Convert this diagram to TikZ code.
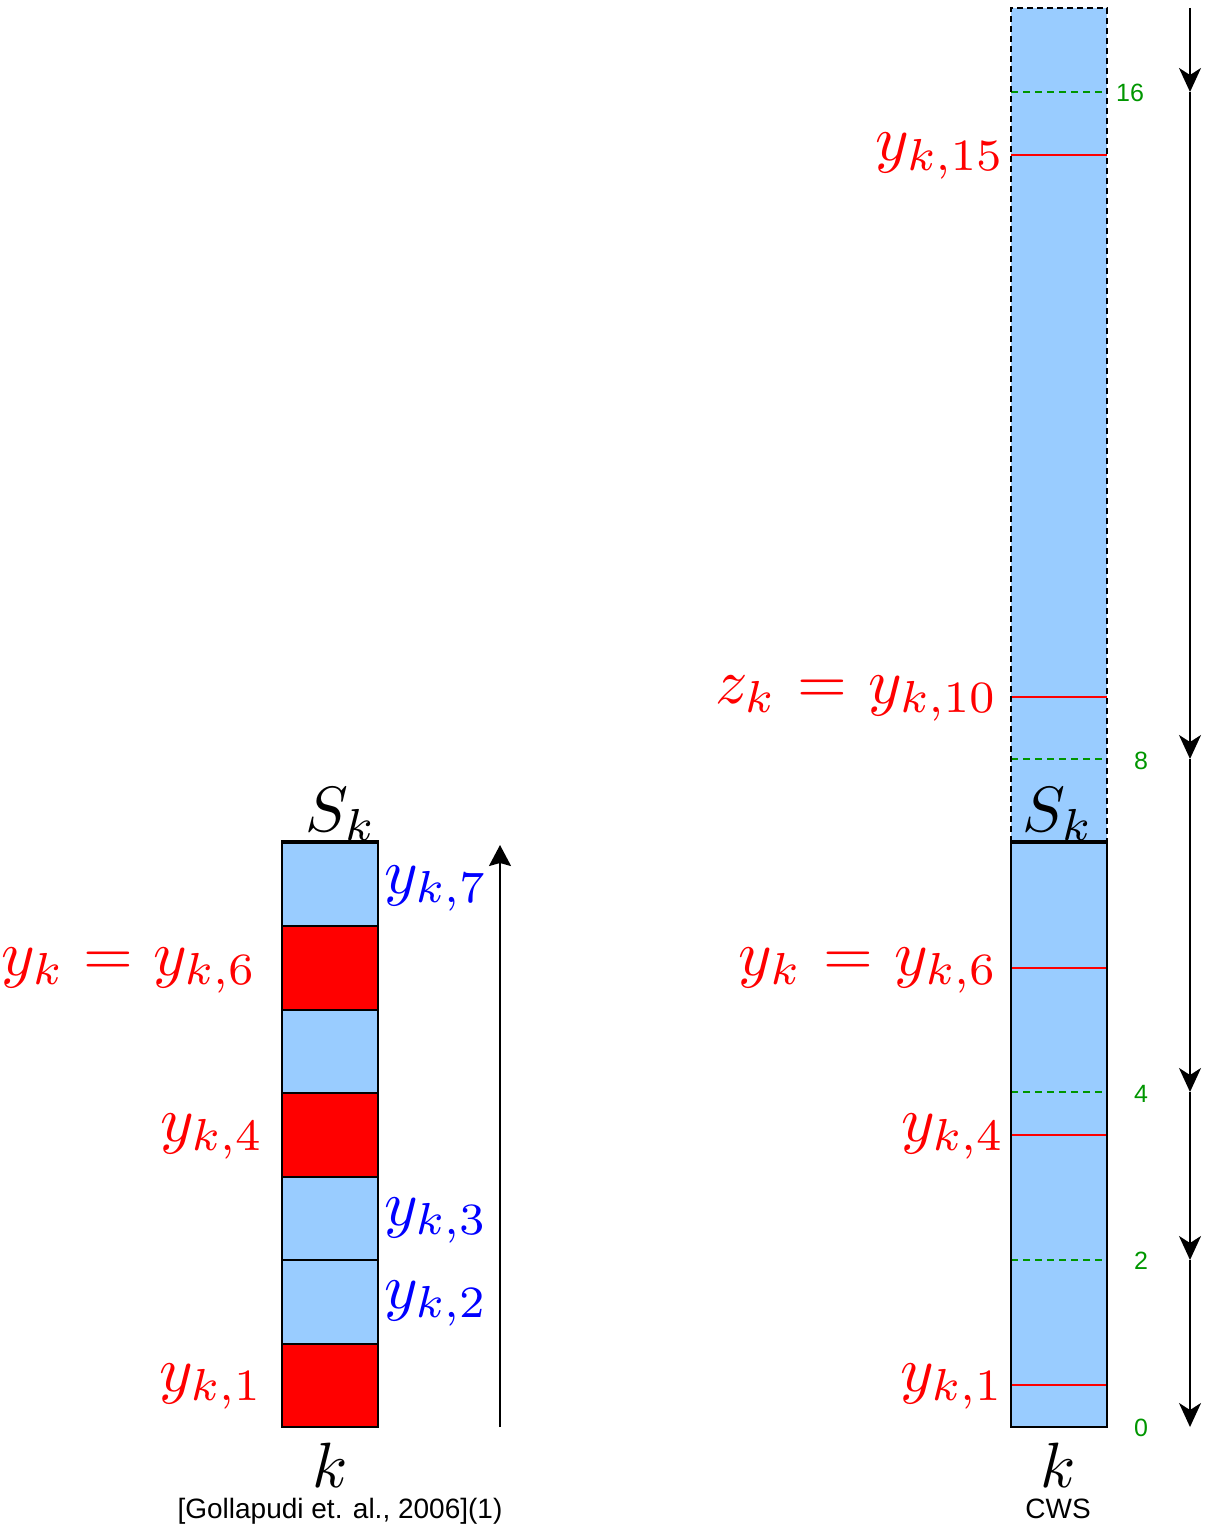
\documentclass[tikz,border=0pt]{standalone}
\usepackage{fix-cm}
\usepackage{graphicx}
\usepackage{fontspec}
\setsansfont{Liberation Sans}
\usetikzlibrary{arrows.meta}
\definecolor{cellblue}{RGB}{153,204,255}
\definecolor{cellred}{RGB}{255,0,0}
\definecolor{tickgreen}{RGB}{0,150,0}
\definecolor{labblue}{RGB}{0,0,255}
\newcommand{\mylab}[1]{\scalebox{6.4}{$#1$}}
\tikzset{
  mlab/.style={inner sep=0pt, font=\fontsize{10}{12}\selectfont},
  redlab/.style={mlab, text=cellred},
  bluelab/.style={mlab, text=labblue},
  blacklab/.style={mlab, text=black},
  caption/.style={inner sep=0pt, font=\sffamily\fontsize{28}{32}\selectfont},
  ticklab/.style={inner sep=0pt, text=tickgreen, font=\sffamily\fontsize{25}{30}\selectfont},
  cellborder/.style={draw=black, line width=2.5pt},
  topline/.style={draw=black, line width=4.5pt},
  redline/.style={draw=cellred, line width=2pt},
  greendash/.style={draw=tickgreen, line width=2pt, dash pattern=on 7pt off 5pt},
  blackdash/.style={draw=black, line width=2.5pt, dash pattern=on 6pt off 4pt},
  downarr/.style={draw=black, line width=2pt, -{Stealth[length=24pt,width=22pt,inset=7pt]}},
  uparr/.style={draw=black, line width=2pt, -{Stealth[length=21pt,width=22pt,inset=3pt]}}
}
\begin{document}
\begin{tikzpicture}[x=1pt,y=-1pt]
\useasboundingbox (0,0) rectangle (1208,1525);

% ---------------- left column ----------------
\fill[cellblue] (282,842) rectangle (378,926);
\fill[cellred]  (282,926) rectangle (378,1010);
\fill[cellblue] (282,1010) rectangle (378,1093);
\fill[cellred]  (282,1093) rectangle (378,1177);
\fill[cellblue] (282,1177) rectangle (378,1260);
\fill[cellblue] (282,1260) rectangle (378,1344);
\fill[cellred]  (282,1344) rectangle (378,1427);
\foreach \ya/\yb in {842/926,926/1010,1010/1093,1093/1177,1177/1260,1260/1344,1344/1427}
  \draw[cellborder] (282,\ya) rectangle (378,\yb);
\draw[topline] (281,842) -- (379,842);

\node[blacklab, anchor=base] (Sl) at (341,831) {\mylab{S_k}};
\node[bluelab, anchor=base west] (l7) at (384,893) {\mylab{y_{k,7}}};
\node[redlab, anchor=base east] (l6) at (257,975) {\mylab{y_k \mkern0.5mu=\mkern0.5mu y_{k,6}}};
\node[redlab, anchor=base east] (l4) at (264,1141) {\mylab{y_{k,4}}};
\node[bluelab, anchor=base west] (l3) at (384,1225) {\mylab{y_{k,3}}};
\node[bluelab, anchor=base west] (l2) at (384,1308) {\mylab{y_{k,2}}};
\node[redlab, anchor=base east] (l1) at (263,1391) {\mylab{y_{k,1}}};
\node[blacklab, anchor=base] (kl) at (330,1487) {\mylab{k}};
\node[caption, anchor=base] (capl) at (340,1518) {[Gollapudi et. al., 2006](1)};

\coordinate (b0) at (500,1427);
\coordinate (b1) at (500,845);
\draw[uparr] (b0) -- (b1);

% ---------------- right column ----------------
\fill[cellblue] (1011,8) rectangle (1107,1427);
\foreach \yy in {155,697,968,1135,1385}
  \draw[redline] (1011,\yy) -- (1107,\yy);
\foreach \yy in {92,759,1092,1260}
  \draw[greendash] (1011,\yy) -- (1107,\yy);
\draw[blackdash] (1011,842) -- (1011,8) -- (1107,8) -- (1107,842);
\draw[cellborder] (1011,842) rectangle (1107,1427);
\draw[topline] (1010,842) -- (1108,842);

\node[redlab, anchor=base east] (r15) at (1005,161) {\mylab{y_{k,15}}};
\node[redlab, anchor=base east] (r10) at (998,703) {\mylab{z_k \mkern1mu=\mkern1mu y_{k,10}}};
\node[blacklab, anchor=base] (Sr) at (1058,831) {\mylab{S_k}};
\node[redlab, anchor=base east] (r6) at (998,975) {\mylab{y_k \mkern1mu=\mkern1mu y_{k,6}}};
\node[redlab, anchor=base east] (r4) at (1005,1141) {\mylab{y_{k,4}}};
\node[redlab, anchor=base east] (r1) at (1004,1391) {\mylab{y_{k,1}}};
\node[blacklab, anchor=base] (kr) at (1058,1487) {\mylab{k}};
\node[caption, anchor=base] (capr) at (1058,1518) {CWS};

\node[ticklab] (t16) at (1130,93) {16};
\node[ticklab] (t8) at (1141,761) {8};
\node[ticklab] (t4) at (1141,1094) {4};
\node[ticklab] (t2) at (1141,1261) {2};
\node[ticklab] (t0) at (1141,1428) {0};

\coordinate (a0) at (1190,8);
\coordinate (a16) at (1190,92);
\coordinate (a8) at (1190,759);
\coordinate (a4) at (1190,1092);
\coordinate (a2) at (1190,1260);
\coordinate (a00) at (1190,1427);
\draw[downarr] (a0) -- (a16);
\draw[downarr] (a16) -- (a8);
\draw[downarr] (a8) -- (a4);
\draw[downarr] (a4) -- (a2);
\draw[downarr] (a2) -- (a00);
\end{tikzpicture}
\end{document}
